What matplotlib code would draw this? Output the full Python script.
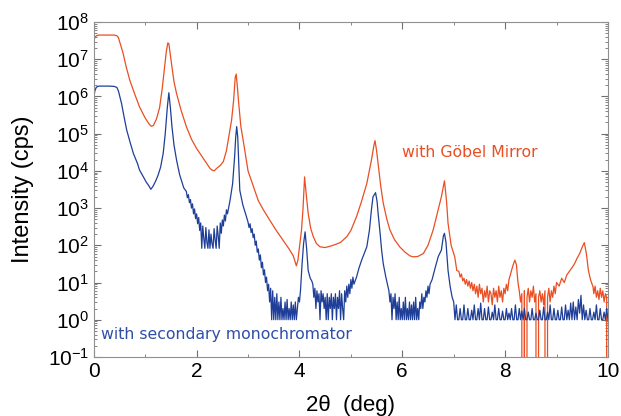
import matplotlib
matplotlib.use("Agg")
import matplotlib.pyplot as plt
import numpy as np
from matplotlib.ticker import LogLocator, MultipleLocator

plt.rcParams['font.family'] = ['Liberation Sans', 'DejaVu Sans']

# Gobel mirror curve: smooth part (2theta deg, counts)
gobel_x = [0.00, 0.02, 0.05, 0.10, 0.20, 0.30, 0.40, 0.45, 0.48, 0.52, 0.57, 0.63,
           0.70, 0.80, 0.89, 1.00, 1.08, 1.12, 1.16, 1.22, 1.28, 1.33, 1.37, 1.41,
           1.44, 1.46, 1.49, 1.52, 1.56, 1.61, 1.70, 1.80, 1.90, 2.00, 2.10, 2.20,
           2.26, 2.30, 2.34, 2.40, 2.46, 2.52, 2.58, 2.63, 2.68, 2.72, 2.75, 2.77,
           2.79, 2.82, 2.86, 2.92, 3.00, 3.10, 3.20, 3.30, 3.42, 3.55, 3.68, 3.80,
           3.88, 3.94, 3.97, 4.00, 4.04, 4.07, 4.10, 4.13, 4.17, 4.22, 4.27, 4.33,
           4.40, 4.50, 4.60, 4.70, 4.80, 4.92, 5.00, 5.11, 5.20, 5.31, 5.40, 5.45,
           5.47, 5.50, 5.53, 5.58, 5.63, 5.70, 5.76, 5.85, 5.95, 6.05, 6.15, 6.21,
           6.30, 6.41, 6.50, 6.60, 6.68, 6.76, 6.82, 6.86, 6.89, 6.95, 7.02, 7.06,
           8.10, 8.15, 8.19, 8.22, 8.25,
           9.05, 9.10, 9.15, 9.20, 9.25, 9.30, 9.35, 9.40, 9.45, 9.50, 9.54, 9.58,
           9.62, 9.66, 9.71, 10.0]
gobel_y = [2.95e7, 3.8e7, 4.27e7, 4.47e7, 4.47e7, 4.47e7, 4.47e7, 4.27e7, 3.8e7, 2.5e7,
           1.45e7, 6.3e6, 2.75e6, 1.12e6, 5.25e5, 2.63e5, 1.78e5, 1.58e5, 1.66e5, 2.5e5,
           5.0e5, 1.58e6, 5.0e6, 1.58e7, 2.75e7, 2.63e7, 1.26e7, 6.3e6, 2.5e6, 1.2e6,
           4.17e5, 1.55e5, 7.1e4, 4.0e4, 2.5e4, 1.58e4, 1.17e4, 1.05e4, 1.0e4, 1.2e4,
           1.4e4, 1.78e4, 3.5e4, 8.9e4, 2.3e5, 7.9e5, 3.2e6, 4.0e6, 2.0e6, 6.3e5,
           1.58e5, 5.0e4, 1.0e4, 4.0e3, 1.58e3, 890, 480, 250, 138, 79,
           52, 28, 40, 89, 257, 1000, 6900, 2500, 720, 280, 170, 112,
           91, 87, 95, 105, 120, 170, 250, 590, 1400, 4570, 1.95e4, 5.0e4,
           6.5e4, 3.5e4, 1.58e4, 4000, 1350, 500, 257, 141, 91, 66, 52, 49,
           50, 60, 100, 257, 710, 2000, 5400, 1580, 390, 100, 49, 21,
           16, 28, 40, 30, 10,
           8, 13, 10, 16, 20, 25, 32, 45, 60, 90, 118, 60,
           21, 12, 7.6, 0]

# Gobel mirror curve: noisy stretches (start, stop, counts)
gobel_noise_a = (7.10, 8.075, [20, 14, 17, 11, 13, 9, 12, 8, 11, 7, 10, 6, 9, 5, 8, 4,
                               9, 5, 7, 3, 6, 4, 8, 3, 6, 5, 2.5, 7, 4, 6, 3, 8, 4, 6,
                               3, 7, 5, 9, 6, 12])
gobel_noise_b = (8.275, 9.0, [6, 3, 5, 0, 6, 0, 4, 7, 3, 6, 4, 8, 3, 5, 0, 4, 6, 3, 5,
                              2.5, 6, 0, 4, 7, 3, 6, 4, 8, 5, 10])
gobel_noise_c = (9.725, 9.975, [5, 8, 4, 6, 3.5, 7, 4, 6, 3, 5, 4])

# secondary monochromator curve: smooth part
mono_x = [0.00, 0.02, 0.05, 0.10, 0.20, 0.30, 0.40, 0.45, 0.48, 0.51, 0.54, 0.59,
          0.64, 0.70, 0.77, 0.85, 0.89, 0.96, 1.02, 1.07, 1.11, 1.15, 1.20, 1.25,
          1.30, 1.35, 1.39, 1.43, 1.46, 1.49, 1.52, 1.56, 1.61, 1.67, 1.75,
          2.65, 2.70, 2.74, 2.76, 2.78, 2.80, 2.82, 2.84, 2.90, 2.96,
          4.05, 4.08, 4.11, 4.14, 4.17, 4.21, 4.24,
          5.11, 5.16, 5.21, 5.26, 5.31, 5.36, 5.40, 5.43, 5.48, 5.51, 5.53, 5.57,
          5.60, 5.63, 5.68, 5.72,
          6.58, 6.64, 6.70, 6.76, 6.80, 6.82, 6.85, 6.89, 6.93, 6.97]
mono_y = [8.9e5, 1.4e6, 1.78e6, 1.9e6, 1.9e6, 1.9e6, 1.86e6, 1.74e6, 1.4e6, 9.5e5,
          6.5e5, 2.8e5, 1.26e5, 6.3e4, 2.95e4, 1.58e4, 1.05e4, 7.1e3, 5.0e3, 4.0e3,
          3.2e3, 3.8e3, 5.2e3, 7.6e3, 1.26e4, 2.95e4, 1.0e5, 5.0e5, 1.26e6, 5.0e5,
          1.58e5, 5.0e4, 1.95e4, 7.9e3, 3.5e3,
          1.6e3, 4.5e3, 2.5e4, 8.0e4, 1.55e5, 8.0e4, 1.6e4, 3.0e3, 1.2e3, 650,
          30, 110, 230, 80, 21, 13, 11,
          14, 25, 40, 60, 91, 250, 900, 2000, 2600, 1500, 720, 200,
          70, 32, 14, 8,
          12, 25, 50, 74, 180, 210, 120, 21, 8, 4]

# secondary monochromator curve: noisy stretches
mono_noise_a = (1.80, 2.60, [2800, 1900, 2300, 1400, 1700, 1000, 1300, 700, 950, 520,
                             700, 380, 560, 250, 400, 83, 330, 150, 83, 300, 120, 83,
                             260, 83, 200, 110, 83, 280, 140, 83, 330, 180, 83, 400,
                             210, 480, 330, 650, 450, 900, 700])
mono_noise_b = (3.00, 3.44, [420, 300, 380, 220, 280, 160, 200, 100, 130, 65, 80, 40,
                             55, 25, 35, 16, 22, 10, 14, 6, 9, 3, 7])
mono_noise_c = (3.46, 4.02, [1, 6, 1, 4, 1, 5, 1, 3, 1, 4, 1, 2, 1, 3, 1, 3.5, 1, 2, 1,
                             3, 1, 2.5, 1, 3, 1, 2, 4, 3, 6])
mono_noise_d = (4.26, 5.06, [9, 4, 7, 2, 6, 3, 5, 1, 6, 3, 5, 2, 4, 1, 5, 1, 4, 2, 5, 1,
                             4, 2, 5, 1, 4, 2, 6, 1, 5, 2, 1, 6, 3, 8, 4, 9, 5, 12, 7,
                             14, 9])
mono_noise_e = (5.74, 6.54, [6, 3, 5, 1, 4, 2, 5, 1, 3, 1, 4, 1, 2, 1, 3, 1, 4, 1, 2, 1,
                             3, 1, 2.5, 1, 3, 1, 4, 1, 2, 1, 3, 2, 5, 2, 4, 3, 6, 4, 8,
                             5, 9])
mono_noise_f = (7.00, 10.0, [3, 1, 2.5, 1, 1, 2, 1, 1, 2.5, 1, 1, 2, 1, 1, 1.8, 1, 2.5,
                             1, 1, 2, 1, 2.8, 1, 1, 2, 1, 1, 2.2, 1, 1, 1.6, 1, 2.5, 1,
                             1, 2, 1, 1, 1.7, 1, 1, 2, 1, 1.5, 1, 2, 1, 1, 2.5, 1, 1, 2,
                             1, 1.7, 1, 2, 1, 1, 1.6, 1, 1, 2, 1, 1, 1.5, 1, 1, 1.8, 1,
                             1, 2.2, 1, 1, 1.6, 1, 2.5, 1, 1, 2, 1, 1, 1.8, 1, 1, 2.2, 1,
                             1, 2.5, 1, 1.8, 1, 2.8, 1, 3, 1, 2.2, 1, 3.5, 1.5, 4.5, 1,
                             2.5, 1, 1.8, 1, 1, 2, 1, 1, 1.6, 1, 2.5, 1, 1, 2, 1, 1, 1.6,
                             1, 2, 1])


def build(xs, ys, noise):
    x = list(xs)
    y = list(ys)
    for start, stop, vals in noise:
        x += list(np.linspace(start, stop, len(vals)))
        y += list(vals)
    x = np.array(x)
    y = np.array(y, dtype=float)
    order = np.argsort(x, kind="stable")
    return x[order], y[order]


gx, gy = build(gobel_x, gobel_y, [gobel_noise_a, gobel_noise_b, gobel_noise_c])
mx, my = build(mono_x, mono_y, [mono_noise_a, mono_noise_b, mono_noise_c,
                                mono_noise_d, mono_noise_e, mono_noise_f])

orange = "#EA4E22"
blue = "#1E3E98"

fig = plt.figure(figsize=(6.21, 4.16), dpi=100)
ax = fig.add_axes([0.151, 0.142, 0.828, 0.805])
ax.plot(gx, gy, color=orange, linewidth=0.9)
ax.plot(mx, my, color=blue, linewidth=0.9)
ax.set_yscale("log", nonpositive="clip")
ax.set_xlim(0, 10)
ax.set_ylim(1e-1, 1e8)

ax.xaxis.set_major_locator(MultipleLocator(2))
ax.xaxis.set_minor_locator(MultipleLocator(1))
ax.yaxis.set_major_locator(LogLocator(base=10, numticks=20))
ax.yaxis.set_minor_locator(LogLocator(base=10, subs=np.arange(2, 10), numticks=20))
ax.tick_params(which="both", direction="in", top=True, right=True, colors="#707070",
               labelcolor="black", labelsize=15)
ax.tick_params(which="major", length=5)
ax.tick_params(which="minor", length=2.5)
for s in ax.spines.values():
    s.set_color("#909090")

ax.set_ylabel("Intensity (cps)", fontsize=17, labelpad=10)
ax.set_xlabel("2\u03b8  (deg)", fontsize=16, labelpad=10)

ax.text(6.0, 10 ** 4.5, "with G\u00f6bel Mirror", color=orange, fontsize=11.3,
        va="center", ha="left", family="DejaVu Sans")
ax.text(0.15, 10 ** -0.41, "with secondary monochromator", color="#2E4EA8",
        fontsize=11.3, va="center", ha="left", family="DejaVu Sans")

fig.savefig("out.png", dpi=100)
